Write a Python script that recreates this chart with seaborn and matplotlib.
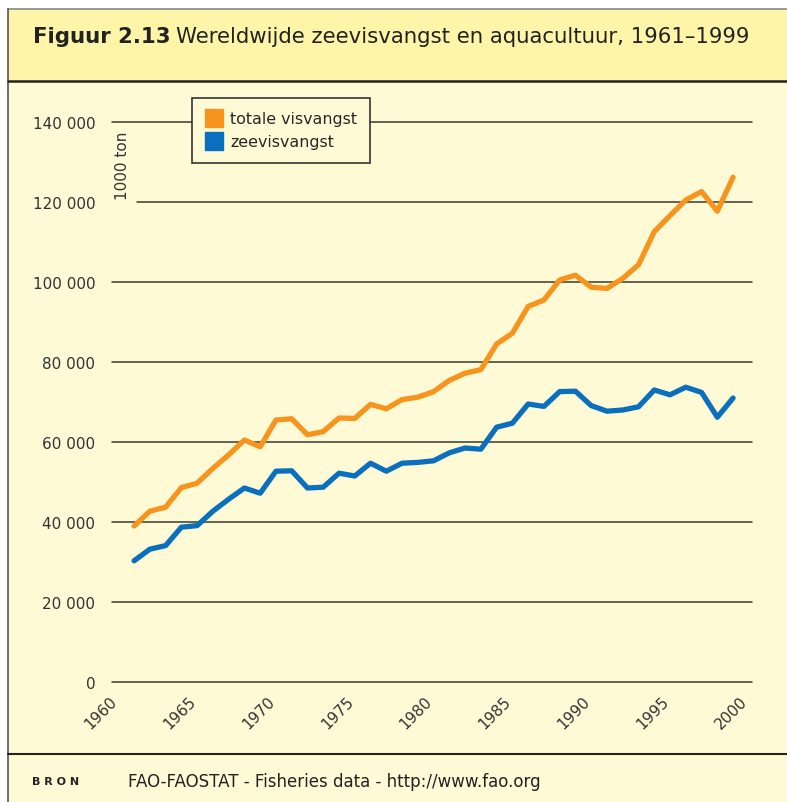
import numpy as np
import pandas as pd
import matplotlib
matplotlib.use("Agg")
import matplotlib.pyplot as plt
import matplotlib.transforms as mtransforms
from matplotlib.patches import Rectangle
from matplotlib.lines import Line2D
import seaborn as sns

# data (1000 ton)
years = list(range(1961, 2000))
totale_visvangst = [39000, 42700, 43700, 48600, 49700, 53400, 56800, 60500, 58800, 65500,
                    65800, 61800, 62600, 66000, 65900, 69400, 68300, 70600, 71200, 72600,
                    75400, 77200, 78100, 84500, 87200, 93900, 95500, 100500, 101700, 98700,
                    98400, 100900, 104300, 112600, 116600, 120500, 122600, 117700, 126200]
zeevisvangst = [30300, 33200, 34100, 38700, 39100, 42700, 45700, 48500, 47200, 52700,
                52800, 48500, 48700, 52200, 51500, 54700, 52700, 54700, 54900, 55300,
                57300, 58500, 58200, 63700, 64700, 69500, 68900, 72600, 72700, 69100,
                67700, 68000, 68800, 73000, 71800, 73700, 72400, 66200, 71000]
series_names = ["totale visvangst", "zeevisvangst"]
series_colors = ["#F7941D", "#0A70BE"]
y_ticks = [0, 20000, 40000, 60000, 80000, 100000, 120000, 140000]
x_ticks = [1960, 1965, 1970, 1975, 1980, 1985, 1990, 1995, 2000]

bg = "#FFFAD6"
band = "#FFF5A8"
dark = "#3a382c"

df = pd.DataFrame({
    "jaar": years * 2,
    "waarde": totale_visvangst + zeevisvangst,
    "reeks": [series_names[0]] * len(years) + [series_names[1]] * len(years),
})

sns.set_style("white", {"axes.facecolor": bg})
plt.rcParams["font.family"] = ["DejaVu Sans"]

W, H = 787, 803
fig = plt.figure(figsize=(W / 100, H / 100), dpi=100)
fig.patch.set_facecolor("white")

# background panels
fig.patches.append(Rectangle((7.5 / W, 0), 1, 1 - 10 / H, transform=fig.transFigure,
                             facecolor=bg, edgecolor="none", zorder=-5))
fig.patches.append(Rectangle((7.5 / W, 1 - 82 / H), 1, 72 / H, transform=fig.transFigure,
                             facecolor=band, edgecolor="none", zorder=-4))
fig.add_artist(Line2D([7.5 / W, 1], [1 - 10 / H] * 2, transform=fig.transFigure, color="#888888", lw=1.2))
fig.add_artist(Line2D([7.5 / W] * 2, [0, 1 - 10 / H], transform=fig.transFigure, color="#555555", lw=1.2))
fig.add_artist(Line2D([7.5 / W, 1], [1 - 82 / H] * 2, transform=fig.transFigure, color="#222222", lw=1.8))
fig.add_artist(Line2D([7.5 / W, 1], [1 - 755 / H] * 2, transform=fig.transFigure, color="#222222", lw=1.5))

ax = fig.add_axes([112 / W, (H - 683) / H, 640 / W, 560 / H])
ax.set_facecolor(bg)
ax.patch.set_alpha(0)

for t in y_ticks:
    xmin = 0.039 if t == 120000 else 0
    ax.axhline(t, xmin=xmin, color=dark, lw=1.1, zorder=1)

sns.lineplot(data=df, x="jaar", y="waarde", hue="reeks", palette=series_colors,
             lw=3.8, ax=ax, legend=False, zorder=3)
for ln in ax.lines:
    ln.set_solid_capstyle("round")
    ln.set_clip_on(False)

ax.set_xlim(1959.6, 2000.2)
ax.set_ylim(0, 140000)
for s in ax.spines.values():
    s.set_visible(False)
ax.set_xlabel("")
ax.set_ylabel("")
ax.set_yticks(y_ticks)
ax.set_yticklabels([f"{v:,}".replace(",", " ") for v in y_ticks], fontsize=11, color="#333333")
ax.set_xticks(x_ticks)
ax.set_xticklabels([str(v) for v in x_ticks], fontsize=11, color="#333333",
                   rotation=45, ha="right", rotation_mode="anchor")
ax.tick_params(axis="y", length=0, pad=12)
ax.tick_params(axis="x", length=0, pad=8)
shift = mtransforms.ScaledTranslation(-9 / 100, 0, fig.dpi_scale_trans)
for lab in ax.get_xticklabels():
    lab.set_transform(lab.get_transform() + shift)

ax.text(0.016, 0.923, "1000 ton", transform=ax.transAxes, rotation=90,
        fontsize=11, color="#333333", ha="center", va="center")

handles = [Line2D([], [], marker="s", ls="none", markersize=12.5, color=c) for c in series_colors]
ax.legend(handles, series_names, loc="upper left", bbox_to_anchor=(192 / W, 1 - 99 / H),
          bbox_transform=fig.transFigure, fontsize=11.4, frameon=True, fancybox=False,
          edgecolor="#333333", facecolor=bg, framealpha=1, handlelength=1.1,
          handletextpad=0.45, borderpad=0.85, labelspacing=0.5, borderaxespad=0)
ax.get_legend().get_frame().set_linewidth(1.2)
ax.get_legend().set_zorder(10)

t1 = ax.annotate("Figuur 2.13", xy=(33, H - 43), xycoords="figure pixels",
                 fontsize=15.3, fontweight="bold", color="#222222", va="baseline")
ax.annotate("Wereldwijde zeevisvangst en aquacultuur, 1961\u20131999", xy=(1, 0), xycoords=t1,
            xytext=(4, 0), textcoords="offset points", fontsize=15.3, color="#222222", va="bottom")

ax.annotate("B R O N", xy=(32, H - 782), xycoords="figure pixels", fontsize=8,
            fontweight="bold", color="#222222", va="center")
ax.annotate("FAO-FAOSTAT - Fisheries data - http://www.fao.org", xy=(128, H - 782),
            xycoords="figure pixels", fontsize=12, color="#222222", va="center")

fig.savefig("out.png", dpi=100)
